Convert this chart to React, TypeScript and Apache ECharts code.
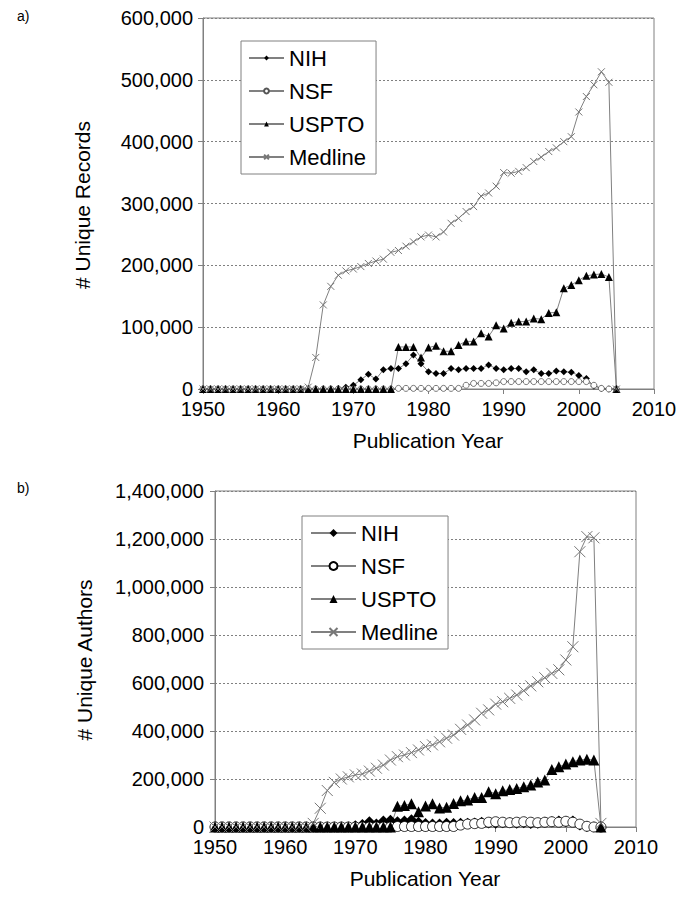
import React, { useEffect, useRef } from "react";
import * as echarts from "echarts";

const FONT = "'Liberation Sans', Arial, Helvetica, sans-serif";

const years = [
  1950, 1951, 1952, 1953, 1954, 1955, 1956, 1957, 1958, 1959,
  1960, 1961, 1962, 1963, 1964, 1965, 1966, 1967, 1968, 1969,
  1970, 1971, 1972, 1973, 1974, 1975, 1976, 1977, 1978, 1979,
  1980, 1981, 1982, 1983, 1984, 1985, 1986, 1987, 1988, 1989,
  1990, 1991, 1992, 1993, 1994, 1995, 1996, 1997, 1998, 1999,
  2000, 2001, 2002, 2003, 2004, 2005,
];

const seriesNames = ["NIH", "NSF", "USPTO", "Medline"];

// ---- a) Unique Records ----
const nihRecords = [
  0, 0, 0, 0, 0, 0, 0, 0, 0, 0,
  0, 0, 0, 0, 0, 0, 0, 0, 1000, 3000,
  6000, 15000, 24000, 16000, 31000, 33000, 33000, 41000, 55000, 41000,
  28000, 25000, 25000, 33000, 31000, 33000, 33000, 33000, 39000, 33000,
  31000, 33000, 33000, 28000, 31000, 25000, 25000, 29000, 28000, 27000,
  22000, 17000, 5000, 1000, 0, 0,
];
const nsfRecords = [
  0, 0, 0, 0, 0, 0, 0, 0, 0, 0,
  0, 0, 0, 0, 0, 0, 0, 0, 0, 0,
  0, 0, 0, 0, 0, 0, 1000, 1000, 1000, 1000,
  1000, 1000, 1000, 1000, 1000, 6000, 9000, 9000, 9000, 10000,
  12000, 12000, 12000, 12000, 12000, 12000, 12000, 12000, 12000, 12000,
  12000, 12000, 6000, 1000, 0, 0,
];
const usptoRecords = [
  0, 0, 0, 0, 0, 0, 0, 0, 0, 0,
  0, 0, 0, 0, 0, 0, 0, 0, 0, 0,
  0, 0, 0, 0, 0, 0, 68000, 68000, 68000, 51000,
  67000, 70000, 61000, 61000, 71000, 77000, 77000, 90000, 85000, 103000,
  98000, 107000, 109000, 109000, 114000, 113000, 123000, 124000, 163000, 168000,
  176000, 183000, 185000, 186000, 181000, 0,
];
const medlineRecords = [
  0, 0, 0, 0, 0, 0, 0, 0, 0, 0,
  0, 0, 0, 0, 3000, 51000, 136000, 166000, 184000, 191000,
  194000, 198000, 203000, 207000, 210000, 221000, 224000, 231000, 238000, 246000,
  249000, 246000, 254000, 268000, 276000, 287000, 295000, 312000, 317000, 328000,
  350000, 349000, 352000, 358000, 368000, 375000, 384000, 390000, 400000, 408000,
  448000, 473000, 492000, 513000, 496000, 0,
];

// ---- b) Unique Authors ----
const nihAuthors = [
  0, 0, 0, 0, 0, 0, 0, 0, 0, 0,
  0, 0, 0, 0, 0, 0, 0, 0, 0, 0,
  5000, 10000, 22000, 12000, 25000, 28000, 22000, 25000, 30000, 20000,
  15000, 12000, 12000, 16000, 15000, 16000, 16000, 17000, 20000, 17000,
  16000, 18000, 18000, 16000, 18000, 15000, 16000, 20000, 22000, 25000,
  22000, 25000, 8000, 2000, 0, 0,
];
const nsfAuthors = [
  0, 0, 0, 0, 0, 0, 0, 0, 0, 0,
  0, 0, 0, 0, 0, 0, 0, 0, 0, 0,
  0, 0, 0, 0, 0, 0, 2000, 2000, 2000, 2000,
  2000, 2000, 2000, 2000, 2000, 8000, 12000, 14000, 15000, 20000,
  22000, 20000, 18000, 20000, 22000, 20000, 18000, 20000, 22000, 20000,
  24000, 20000, 12000, 3000, 0, 0,
];
const usptoAuthors = [
  0, 0, 0, 0, 0, 0, 0, 0, 0, 0,
  0, 0, 0, 0, 0, 0, 0, 0, 0, 0,
  0, 0, 0, 0, 0, 0, 86000, 90000, 97000, 64000,
  87000, 97000, 79000, 82000, 98000, 109000, 113000, 123000, 123000, 147000,
  139000, 151000, 156000, 160000, 168000, 175000, 187000, 196000, 240000, 251000,
  262000, 272000, 279000, 282000, 279000, 0,
];
const medlineAuthors = [
  0, 0, 0, 0, 0, 0, 0, 0, 0, 0,
  0, 0, 0, 0, 15000, 78000, 152000, 186000, 200000, 209000,
  217000, 221000, 233000, 245000, 258000, 279000, 293000, 300000, 310000, 321000,
  335000, 342000, 355000, 370000, 383000, 407000, 425000, 446000, 474000, 488000,
  512000, 522000, 536000, 550000, 568000, 588000, 605000, 622000, 640000, 655000,
  696000, 751000, 1147000, 1210000, 1205000, 15000,
];

const X_SYMBOL = "path://M0,0L10,10M10,0L0,10";
const LINE_GRAY = "#808080";

const fmt = (v: number) => v.toLocaleString("en-US");

function pairs(values: number[]) {
  return years.map((y, i) => [y, values[i]]);
}

function makeSeries(
  suffix: string,
  gridIdx: number,
  data: number[][],
  sizes: { d: number; c: number; t: number; x: number },
  circleBorder: string
) {
  const base = {
    type: "line" as const,
    xAxisIndex: gridIdx,
    yAxisIndex: gridIdx,
    showSymbol: true,
    lineStyle: { color: LINE_GRAY, width: 1 },
    emphasis: { disabled: true },
    silent: true,
  };
  return [
    {
      ...base,
      name: "NIH" + suffix,
      data: pairs(data[0]),
      symbol: "diamond",
      symbolSize: sizes.d,
      itemStyle: { color: "#000000", borderWidth: 0 },
    },
    {
      ...base,
      name: "NSF" + suffix,
      data: pairs(data[1]),
      symbol: "circle",
      symbolSize: sizes.c,
      itemStyle: { color: "#ffffff", borderColor: circleBorder, borderWidth: 0.8 },
    },
    {
      ...base,
      name: "USPTO" + suffix,
      data: pairs(data[2]),
      symbol: "triangle",
      symbolSize: sizes.t,
      itemStyle: { color: "#000000", borderWidth: 0 },
    },
    {
      ...base,
      name: "Medline" + suffix,
      data: pairs(data[3]),
      symbol: X_SYMBOL,
      symbolSize: sizes.x,
      itemStyle: { color: "#777777", borderColor: "#777777", borderWidth: 1 },
    },
  ];
}

function xAxisCfg(gridIndex: number) {
  return {
    type: "value" as const,
    gridIndex,
    min: 1950,
    max: 2010,
    interval: 10,
    axisLine: { show: true, onZero: false, lineStyle: { color: LINE_GRAY, width: 1 } },
    axisTick: { show: true, length: 5, lineStyle: { color: LINE_GRAY } },
    axisLabel: {
      color: "#000",
      fontSize: 20,
      margin: 10,
      fontFamily: FONT,
      formatter: (v: number) => String(v),
    },
    splitLine: { show: false },
  };
}

function yAxisCfg(gridIndex: number, max: number, interval: number, margin: number) {
  return {
    type: "value" as const,
    gridIndex,
    min: 0,
    max,
    interval,
    axisLine: { show: true, onZero: false, lineStyle: { color: LINE_GRAY, width: 1 } },
    axisTick: { show: true, length: 5, lineStyle: { color: LINE_GRAY } },
    axisLabel: {
      color: "#000",
      fontSize: 20,
      margin,
      fontFamily: FONT,
      formatter: (v: number) => fmt(v),
    },
    splitLine: { show: true, lineStyle: { color: LINE_GRAY, width: 1, type: [2, 2] } },
  };
}

function legendCfg(suffix: string, left: number, top: number, itemWidth: number, itemHeight: number, padding: number[]) {
  return {
    show: true,
    data: seriesNames.map((n) => n + suffix),
    formatter: (name: string) => (suffix ? name.replace(suffix, "") : name),
    orient: "vertical" as const,
    left,
    top,
    itemWidth,
    itemHeight,
    itemGap: 11,
    padding,
    borderColor: LINE_GRAY,
    borderWidth: 1,
    borderRadius: 0,
    backgroundColor: "#ffffff",
    selectedMode: false,
    textStyle: { color: "#000", fontSize: 22, lineHeight: 22, fontFamily: FONT },
  };
}

export default function App() {
  const ref = useRef<HTMLDivElement>(null);

  useEffect(() => {
    if (!ref.current) return;
    const chart = echarts.init(ref.current, undefined, { renderer: "svg" });

    const option: any = {
      animation: false,
      backgroundColor: "#ffffff",
      textStyle: { fontFamily: FONT },
      grid: [
        {
          left: 203, top: 18, width: 451, height: 371,
          show: true, borderColor: LINE_GRAY, borderWidth: 1,
          backgroundColor: "transparent", containLabel: false, outerBoundsMode: "none",
        },
        {
          left: 215, top: 491, width: 421, height: 336,
          show: true, borderColor: LINE_GRAY, borderWidth: 1,
          backgroundColor: "transparent", containLabel: false, outerBoundsMode: "none",
        },
      ],
      xAxis: [xAxisCfg(0), xAxisCfg(1)],
      yAxis: [yAxisCfg(0, 600000, 100000, 10), yAxisCfg(1, 1400000, 200000, 11)],
      legend: [
        legendCfg("", 241, 41, 35, 6, [6, 10, 6, 7]),
        legendCfg("_b", 302, 516, 45, 10, [6, 10, 6, 8]),
      ],
      graphic: [
        { type: "text", left: 17, top: 9, style: { text: "a)", fontSize: 14, fill: "#000", fontFamily: FONT } },
        { type: "text", left: 17, top: 481, style: { text: "b)", fontSize: 14, fill: "#000", fontFamily: FONT } },
        {
          type: "text", x: 82, y: 205, rotation: Math.PI / 2,
          style: { text: "# Unique Records", fontSize: 21, fill: "#000", fontFamily: FONT, align: "center", verticalAlign: "middle" },
        },
        {
          type: "text", x: 84, y: 660, rotation: Math.PI / 2,
          style: { text: "# Unique Authors", fontSize: 21, fill: "#000", fontFamily: FONT, align: "center", verticalAlign: "middle" },
        },
        {
          type: "text", x: 428, y: 440,
          style: { text: "Publication Year", fontSize: 21, fill: "#000", fontFamily: FONT, align: "center", verticalAlign: "middle" },
        },
        {
          type: "text", x: 425, y: 878,
          style: { text: "Publication Year", fontSize: 21, fill: "#000", fontFamily: FONT, align: "center", verticalAlign: "middle" },
        },
      ],
      series: [
        ...makeSeries("", 0, [nihRecords, nsfRecords, usptoRecords, medlineRecords], { d: 7, c: 6, t: 8, x: 7 }, "#555555"),
        ...makeSeries("_b", 1, [nihAuthors, nsfAuthors, usptoAuthors, medlineAuthors], { d: 11, c: 10, t: 11, x: 11 }, "#000000"),
      ],
    };

    chart.setOption(option);
    return () => chart.dispose();
  }, []);

  return (
    <div
      ref={ref}
      style={{ position: "absolute", left: 0, top: 0, width: 680, height: 906, background: "#fff" }}
    />
  );
}
